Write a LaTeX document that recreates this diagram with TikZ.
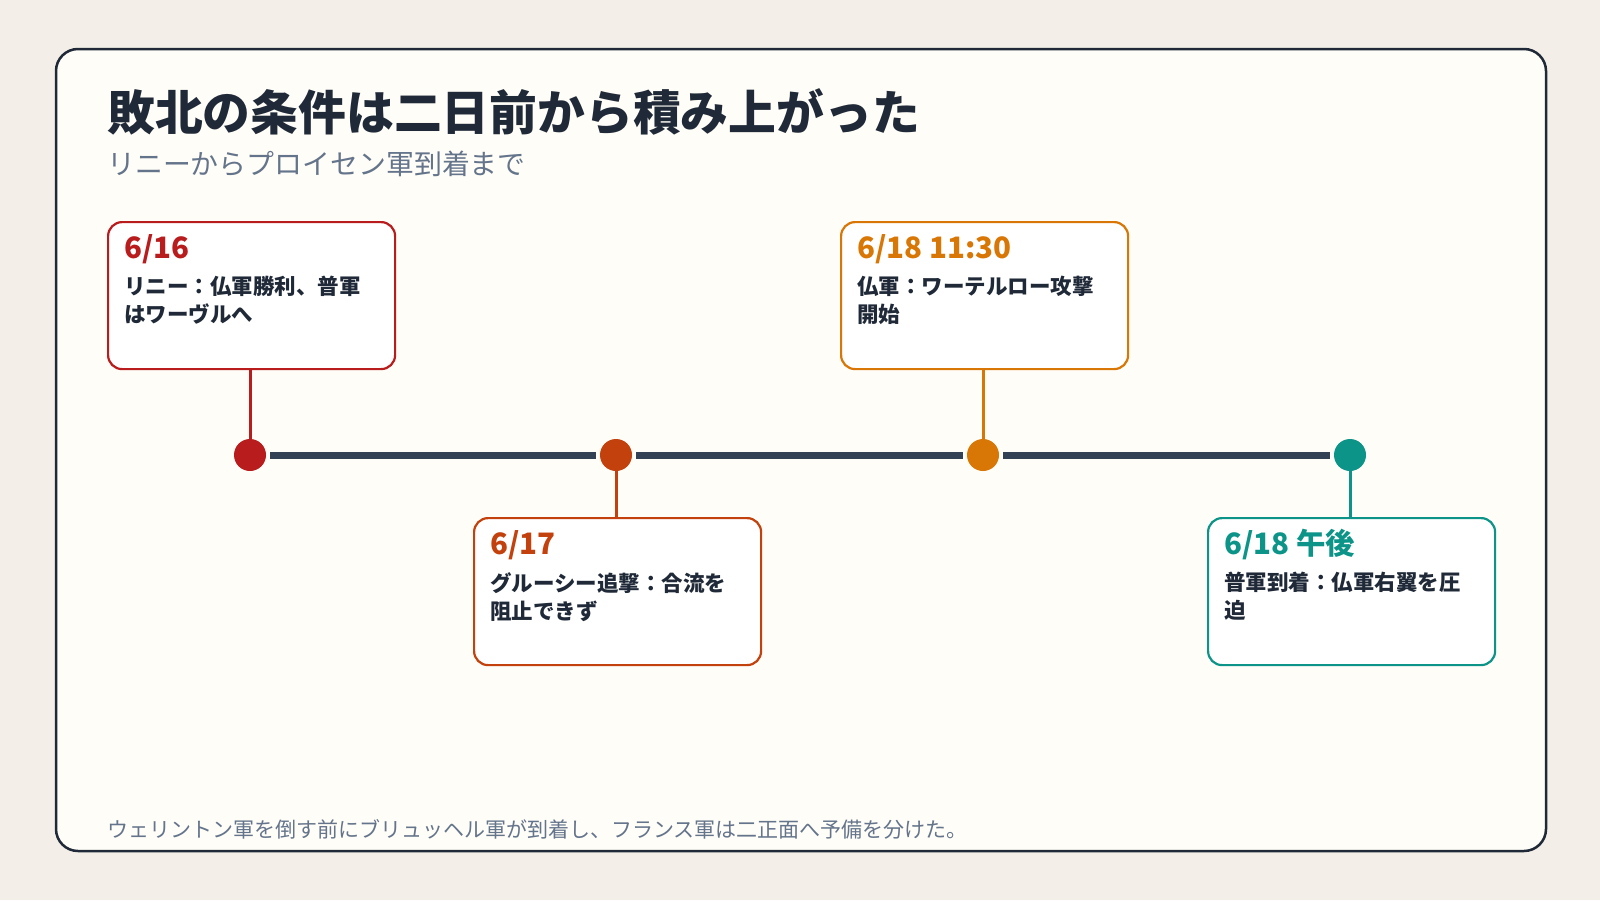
\documentclass[tikz,border=0pt]{standalone}
\usepackage{fontspec}
\setmainfont{Noto Sans CJK JP}
\definecolor{bg}{HTML}{F3EFE8}
\definecolor{card}{HTML}{FFFDF7}
\definecolor{ink}{HTML}{1F2937}
\definecolor{sub}{HTML}{64748B}
\definecolor{axis}{HTML}{334155}
\definecolor{cA}{HTML}{B91C1C}
\definecolor{cB}{HTML}{C2410C}
\definecolor{cC}{HTML}{D97706}
\definecolor{cD}{HTML}{0D9488}
\begin{document}
\begin{tikzpicture}[x=1pt,y=-1pt,
  ev/.style={draw=#1,line width=2.2pt,fill=white,rounded corners=14pt,minimum width=287pt,minimum height=147pt,anchor=north west},
  dot/.style={circle,fill=#1,minimum size=32pt,inner sep=0pt},
  date/.style={anchor=base west,text=#1,font=\fontsize{29.5}{32}\selectfont\bfseries},
  body/.style={anchor=north west,text=ink,font=\fontsize{21.5}{28}\selectfont\bfseries,align=left,inner sep=0pt},
  stem/.style={draw=#1,line width=3pt},
  axisl/.style={draw=axis,line width=7pt}]
\useasboundingbox (0,0) rectangle (1600,900);
\fill[bg] (0,0) rectangle (1600,900);
\draw[ink,line width=2.5pt,fill=card,rounded corners=22pt] (56,49) rectangle (1546,851);
\node[anchor=base west,text=ink,font=\fontsize{47.8}{54}\selectfont\bfseries,inner sep=0pt] (title) at (107,130) {敗北の条件は二日前から積み上がった};
\node[anchor=base west,text=sub,font=\fontsize{27.9}{30}\selectfont,inner sep=0pt] (subt) at (107,174) {リニーからプロイセン軍到着まで};
\node[dot=cA] (d1) at (250,455) {};
\node[dot=cB] (d2) at (616,455) {};
\node[dot=cC] (d3) at (983,455) {};
\node[dot=cD] (d4) at (1350,455) {};
\draw[axisl] (d1.east) ++(4,0) -- ([xshift=-4pt]d2.west);
\draw[axisl] (d2.east) ++(4,0) -- ([xshift=-4pt]d3.west);
\draw[axisl] (d3.east) ++(4,0) -- ([xshift=-4pt]d4.west);
\node[ev=cA] (b1) at (107,221) {};
\node[ev=cB] (b2) at (473,517) {};
\node[ev=cC] (b3) at (840,221) {};
\node[ev=cD] (b4) at (1207,517) {};
\draw[stem=cA] (b1.south -| d1) -- (d1.north);
\draw[stem=cB] (b2.north -| d2) -- (d2.south);
\draw[stem=cC] (b3.south -| d3) -- (d3.north);
\draw[stem=cD] (b4.north -| d4) -- (d4.south);
\node[date=cA,inner sep=0pt] (t1) at ([xshift=17pt,yshift=-37pt]b1.north west) {6/16};
\node[date=cB,inner sep=0pt] (t2) at ([xshift=17pt,yshift=-37pt]b2.north west) {6/17};
\node[date=cC,inner sep=0pt] (t3) at ([xshift=17pt,yshift=-37pt]b3.north west) {6/18 11:30};
\node[date=cD,inner sep=0pt] (t4) at ([xshift=17pt,yshift=-37pt]b4.north west) {6/18 午後};
\node[body] (x1) at ([xshift=17pt,yshift=-55pt]b1.north west) {リニー：仏軍勝利、普軍\\はワーヴルへ};
\node[body] (x2) at ([xshift=17pt,yshift=-55pt]b2.north west) {グルーシー追撃：合流を\\阻止できず};
\node[body] (x3) at ([xshift=17pt,yshift=-55pt]b3.north west) {仏軍：ワーテルロー攻撃\\開始};
\node[body] (x4) at ([xshift=17pt,yshift=-55pt]b4.north west) {普軍到着：仏軍右翼を圧\\迫};
\node[anchor=base west,text=sub,font=\fontsize{21}{24}\selectfont,inner sep=0pt] (foot) at (107,837) {ウェリントン軍を倒す前にブリュッヘル軍が到着し、フランス軍は二正面へ予備を分けた。};
\end{tikzpicture}
\end{document}
